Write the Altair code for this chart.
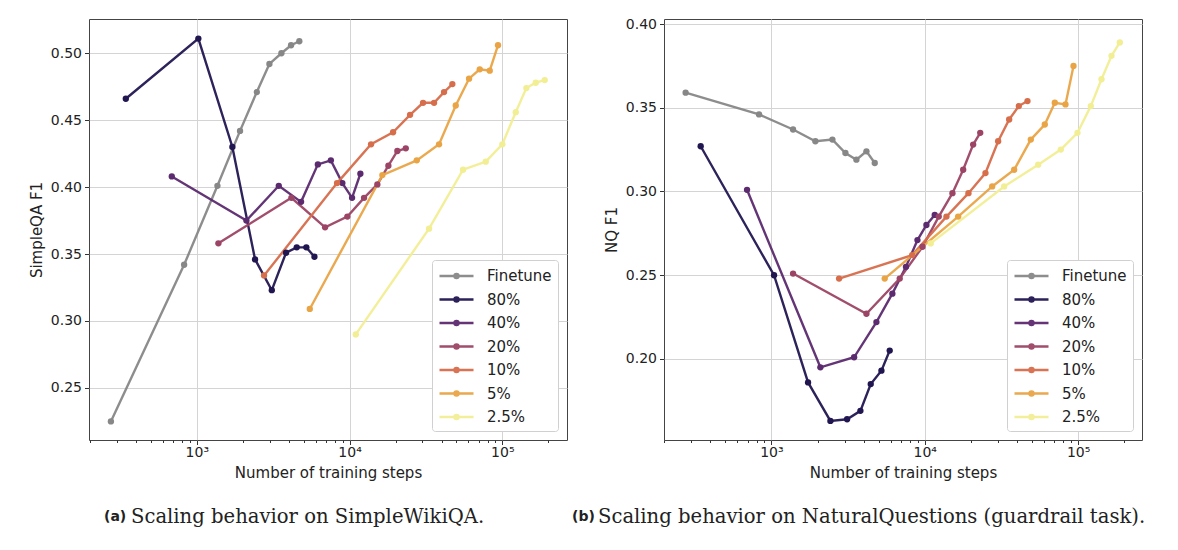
import altair as alt
import pandas as pd

SERIES = ["Finetune", "80%", "40%", "20%", "10%", "5%", "2.5%"]
COLORS = ["#878787", "#221651", "#5c2a6f", "#9c4465", "#d66d4b", "#e9a446", "#f2ee94"]

# ---- (a) SimpleWikiQA ----
SQA_FT_X = [274, 826, 1365, 1919, 2471, 2987, 3580, 4140, 4690]
SQA_FT_Y = [0.225, 0.342, 0.401, 0.442, 0.471, 0.492, 0.500, 0.506, 0.509]
SQA_80_X = [343, 1024, 1710, 2407, 3097, 3840, 4510, 5213, 5890]
SQA_80_Y = [0.466, 0.511, 0.430, 0.346, 0.323, 0.351, 0.355, 0.355, 0.348]
SQA_40_X = [686, 2112, 3441, 4815, 6201, 7544, 8973, 10385, 11770]
SQA_40_Y = [0.408, 0.375, 0.401, 0.389, 0.417, 0.420, 0.403, 0.392, 0.410]
SQA_20_X = [1385, 4160, 6914, 9674, 12440, 15205, 17950, 20550, 23330]
SQA_20_Y = [0.358, 0.392, 0.370, 0.378, 0.392, 0.402, 0.416, 0.427, 0.429]
SQA_10_X = [2756, 8280, 13826, 19265, 24890, 30270, 35730, 41530, 47080]
SQA_10_Y = [0.334, 0.403, 0.432, 0.441, 0.454, 0.463, 0.463, 0.471, 0.477]
SQA_5_X = [5489, 16395, 27540, 38530, 49550, 60550, 71130, 82700, 93700]
SQA_5_Y = [0.309, 0.409, 0.420, 0.432, 0.461, 0.481, 0.488, 0.487, 0.506]
SQA_25_X = [10980, 33140, 55320, 77850, 100000, 122400, 143600, 165400, 189400]
SQA_25_Y = [0.290, 0.369, 0.413, 0.419, 0.432, 0.456, 0.474, 0.478, 0.480]

# ---- (b) NaturalQuestions ----
NQ_FT_X = [276, 831, 1385, 1936, 2500, 3040, 3585, 4168, 4722]
NQ_FT_Y = [0.359, 0.346, 0.337, 0.330, 0.331, 0.323, 0.319, 0.324, 0.317]
NQ_80_X = [346, 1041, 1735, 2426, 3117, 3807, 4445, 5219, 5910]
NQ_80_Y = [0.327, 0.250, 0.186, 0.163, 0.164, 0.169, 0.185, 0.193, 0.205]
NQ_40_X = [694, 2087, 3463, 4842, 6150, 7544, 8964, 10257, 11620]
NQ_40_Y = [0.301, 0.195, 0.201, 0.222, 0.239, 0.255, 0.271, 0.280, 0.286]
NQ_20_X = [1385, 4167, 6871, 9674, 12340, 15160, 17810, 20690, 23010]
NQ_20_Y = [0.251, 0.227, 0.248, 0.267, 0.285, 0.299, 0.313, 0.328, 0.335]
NQ_10_X = [2764, 8280, 13854, 19280, 24890, 30110, 35530, 41040, 46770]
NQ_10_Y = [0.248, 0.262, 0.285, 0.299, 0.311, 0.330, 0.343, 0.351, 0.354]
NQ_5_X = [5483, 16515, 27530, 38300, 49150, 60650, 70470, 82760, 93330]
NQ_5_Y = [0.248, 0.285, 0.303, 0.313, 0.331, 0.340, 0.353, 0.352, 0.375]
NQ_25_X = [10940, 32960, 54920, 77120, 99100, 121000, 142100, 165200, 187100]
NQ_25_Y = [0.269, 0.303, 0.316, 0.325, 0.335, 0.351, 0.367, 0.381, 0.389]

X_TICKS = [200, 300, 400, 500, 600, 700, 800, 900,
           1000, 2000, 3000, 4000, 5000, 6000, 7000, 8000, 9000,
           10000, 20000, 30000, 40000, 50000, 60000, 70000, 80000, 90000,
           100000, 200000]
SQA_Y_TICKS = [0.25, 0.30, 0.35, 0.40, 0.45, 0.50]
NQ_Y_TICKS = [0.20, 0.25, 0.30, 0.35, 0.40]


def frame(xs_list, ys_list):
    rows = []
    for name, xs, ys in zip(SERIES, xs_list, ys_list):
        for x, y in zip(xs, ys):
            rows.append({"series": name, "steps": x, "f1": y})
    return pd.DataFrame(rows)


sqa_df = frame([SQA_FT_X, SQA_80_X, SQA_40_X, SQA_20_X, SQA_10_X, SQA_5_X, SQA_25_X],
               [SQA_FT_Y, SQA_80_Y, SQA_40_Y, SQA_20_Y, SQA_10_Y, SQA_5_Y, SQA_25_Y])
nq_df = frame([NQ_FT_X, NQ_80_X, NQ_40_X, NQ_20_X, NQ_10_X, NQ_5_X, NQ_25_X],
              [NQ_FT_Y, NQ_80_Y, NQ_40_Y, NQ_20_Y, NQ_10_Y, NQ_5_Y, NQ_25_Y])

MAJOR = "indexof([1000, 10000, 100000], datum.value) >= 0"
LABEL_EXPR = ("datum.value == 1000 ? '10\u00b3' : datum.value == 10000 ? '10\u2074' : "
              "datum.value == 100000 ? '10\u2075' : ''")
# line from -1 to 3 (units of half the symbol box), dot in the middle of the line
LEGEND_SYMBOL = ("M-1,0L3,0M0.77,0A0.23,0.23,0,1,1,1.23,0"
                 "A0.23,0.23,0,1,1,0.77,0Z")
TXT = "#222222"


def panel(df, xdom, ydom, yticks, ytitle, height, tag, caption, tag_x, cap_x, cap_y):
    xax = alt.Axis(values=X_TICKS, labelExpr=LABEL_EXPR, title="Number of training steps",
                   grid=True, domain=False, labelOverlap=False, labelFlush=False,
                   gridOpacity={"condition": {"test": MAJOR, "value": 1}, "value": 0},
                   tickSize={"condition": {"test": MAJOR, "value": 4.5}, "value": 2.5},
                   gridColor="#d4d4d4", gridWidth=1, tickColor="#333333",
                   labelFont="DejaVu Sans", labelFontSize=14, labelColor=TXT, labelPadding=1,
                   titleFont="DejaVu Sans", titleFontSize=15, titleFontWeight="normal",
                   titleColor=TXT, titlePadding=6)
    yax = alt.Axis(values=yticks, format=".2f", title=ytitle, grid=True, domain=False,
                   gridColor="#d4d4d4", gridWidth=1, tickSize=4.5, tickColor="#333333",
                   labelFont="DejaVu Sans", labelFontSize=14, labelColor=TXT, labelPadding=3,
                   labelFlush=False,
                   titleFont="DejaVu Sans", titleFontSize=15, titleFontWeight="normal",
                   titleColor=TXT, titlePadding=6)
    legend = alt.Legend(title=None, orient="bottom-right", offset=9, symbolType=LEGEND_SYMBOL,
                        symbolSize=289, symbolStrokeWidth=2.6, labelFont="DejaVu Sans",
                        labelFontSize=15, labelColor=TXT, labelOffset=29, rowPadding=5.5,
                        padding=6, fillColor="white", strokeColor="#d0d0d0", cornerRadius=3)
    lines = alt.Chart(df).mark_line(
        strokeWidth=2.4, opacity=0.95,
        point=alt.OverlayMarkDef(filled=True, size=40, opacity=1)
    ).encode(
        x=alt.X("steps:Q", scale=alt.Scale(type="log", domain=xdom, nice=False), axis=xax),
        y=alt.Y("f1:Q", scale=alt.Scale(domain=ydom, nice=False, zero=False), axis=yax),
        color=alt.Color("series:N", scale=alt.Scale(domain=SERIES, range=COLORS),
                        sort=SERIES, legend=legend),
    )
    one = pd.DataFrame({"k": [0]})
    tag_mark = alt.Chart(one).mark_text(
        align="left", baseline="middle", font="DejaVu Sans", fontWeight="bold",
        fontSize=14, color=TXT, text=tag
    ).encode(x=alt.value(tag_x), y=alt.value(cap_y))
    cap_mark = alt.Chart(one).mark_text(
        align="left", baseline="middle", font="DejaVu Serif", fontSize=19.6,
        color=TXT, text=caption
    ).encode(x=alt.value(cap_x), y=alt.value(cap_y))
    return alt.layer(lines, tag_mark, cap_mark).properties(width=478, height=height)


left = panel(sqa_df, [197, 265000], [0.2111, 0.5256], SQA_Y_TICKS, "SimpleQA F1", 421,
             "(a)", "Scaling behavior on SimpleWikiQA.", 15, 42, 498)
right = panel(nq_df, [199.5, 261000], [0.1516, 0.403], NQ_Y_TICKS, "NQ F1", 421,
              "(b)", "Scaling behavior on NaturalQuestions (guardrail task).", -92, -66, 498)

chart = alt.hconcat(left, right, spacing=3).resolve_legend(
    color="independent"
).resolve_scale(
    color="independent"
).configure_view(
    stroke="#444444", strokeWidth=1
).properties(
    padding={"left": 20, "top": 8, "right": 5, "bottom": 5},
    background="white"
)

chart.save("out.html", embed_options={"renderer": "svg", "actions": False})
